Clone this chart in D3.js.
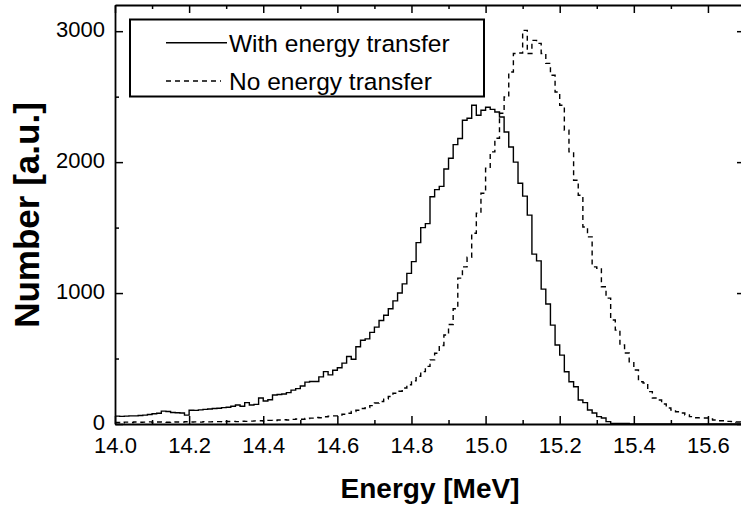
<!DOCTYPE html>
<html>
<head>
<meta charset="utf-8">
<script src="https://cdn.jsdelivr.net/npm/d3@7"></script>
<style>
  body { margin: 0; background: #fff; }
  svg { display: block; font-family: 'Liberation Sans', Arial, sans-serif; }
</style>
</head>
<body>
<svg id="chart" width="741" height="506"></svg>
<script>
const binStart = 14.0;
const binWidth = 0.0125;

// counts per bin
const withTransfer = [
  60, 58, 60, 62, 62, 65, 68, 72, 78, 82,
  98, 95, 88, 86, 84, 68, 105, 104, 108, 112,
  114, 118, 120, 125, 128, 135, 145, 135, 163, 145,
  150, 198, 176, 185, 221, 225, 229, 240, 259, 270,
  290, 320, 325, 325, 360, 400, 375, 410, 430, 465,
  515, 495, 590, 640, 650, 700, 740, 790, 830, 880,
  940, 1000, 1070, 1150, 1240, 1385, 1500, 1530, 1735, 1790,
  1815, 1947, 2030, 2134, 2180, 2320, 2335, 2434, 2358, 2396,
  2419, 2403, 2383, 2345, 2230, 2116, 2000, 1839, 1740, 1595,
  1297, 1246, 1030, 916, 755, 603, 526, 399, 323, 285,
  183, 163, 107, 84, 56, 46, 18, 5, 5, 5,
  5, 0, 0, 0, 0, 0, 0, 0, 0, 0,
  0, 0, 0, 0, 0, 0, 0, 0, 0, 0,
  0, 0, 0, 0, 0, 0,
];
const noTransfer = [
  12, 10, 14, 12, 15, 13, 14, 16, 12, 15,
  14, 13, 16, 15, 14, 17, 15, 16, 14, 18,
  16, 17, 18, 16, 19, 20, 18, 21, 20, 22,
  24, 25, 22, 28, 26, 30, 32, 30, 35, 38,
  36, 42, 45, 50, 48, 55, 60, 62, 68, 75,
  82, 95, 105, 118, 125, 140, 160, 172, 190, 210,
  235, 250, 275, 300, 330, 365, 400, 440, 490, 540,
  600, 680, 760, 880, 1114, 1200, 1274, 1457, 1610, 1762,
  1953, 2078, 2182, 2373, 2497, 2688, 2830, 2833, 3006, 2830,
  2930, 2907, 2830, 2754, 2663, 2535, 2434, 2243, 2078, 1862,
  1747, 1505, 1429, 1200, 1190, 1048, 961, 794, 717, 603,
  542, 475, 412, 323, 313, 247, 198, 183, 153, 122,
  107, 94, 84, 69, 56, 48, 47, 46, 38, 30,
  25, 25, 20, 18, 15, 12,
];

const xMajor = [14.0, 14.2, 14.4, 14.6, 14.8, 15.0, 15.2, 15.4, 15.6];
const xMinor = [14.1, 14.3, 14.5, 14.7, 14.9, 15.1, 15.3, 15.5, 15.7];
const yMajor = [0, 1000, 2000, 3000];
const yMinor = [500, 1500, 2500];
const seriesNames = ['With energy transfer', 'No energy transfer'];

const svg = d3.select('#chart');
const plotLeft = 115; const plotRight = 745; const plotTop = 5; const plotBottom = 424;

const x = d3.scaleLinear().domain([14.0, 15.7]).range([plotLeft, plotRight]);
const y = d3.scaleLinear().domain([0, 3200]).range([plotBottom, plotTop]);

const toPoints = (vals)=>{
  const pts = vals.map((v, i)=>[binStart + i*binWidth, v]);
  pts.push([binStart + vals.length*binWidth, vals[vals.length-1]]);
  return pts;
};

const line = d3.line()
    .x((d)=>x(d[0]))
    .y((d)=>y(d[1]))
    .curve(d3.curveStepAfter);

const dashes = [null, '5,4'];

// histograms
[withTransfer, noTransfer].forEach((vals, i)=>{
  svg.append('path')
      .attr('d', line(toPoints(vals)))
      .style('fill', 'none')
      .style('stroke', '#000')
      .style('stroke-width', 1.4)
      .style('stroke-dasharray', dashes[i]);
});

// axes, ticks pointing inward
const drawAxis = (axis, tx, ty, withDomain)=>{
  const g = svg.append('g')
      .attr('transform', `translate(${tx},${ty})`)
      .call(axis)
      .attr('font-family', null)
      .attr('font-size', 22);
  g.selectAll('.tick line').style('stroke', '#000').style('stroke-width', 1.5);
  g.selectAll('.tick text').style('fill', '#000');
  if (withDomain) {
    g.select('.domain').style('stroke', '#000').style('stroke-width', 1.8);
  } else {
    g.select('.domain').remove();
  }
  return g;
};

drawAxis(d3.axisBottom(x).tickValues(xMajor).tickFormat(d3.format('.1f'))
    .tickSizeInner(-8).tickSizeOuter(0).tickPadding(13), 0, plotBottom, true);
drawAxis(d3.axisBottom(x).tickValues(xMinor).tickFormat('')
    .tickSizeInner(-4).tickSizeOuter(0), 0, plotBottom, false);
drawAxis(d3.axisTop(x).tickValues(xMajor).tickFormat('')
    .tickSizeInner(-8).tickSizeOuter(0), 0, plotTop, true);
drawAxis(d3.axisTop(x).tickValues(xMinor).tickFormat('')
    .tickSizeInner(-4).tickSizeOuter(0), 0, plotTop, false);

drawAxis(d3.axisLeft(y).tickValues(yMajor).tickFormat(d3.format('d'))
    .tickSizeInner(-8).tickSizeOuter(0).tickPadding(10), plotLeft, 0, true)
    .selectAll('.tick text').attr('dy', '0.26em');
drawAxis(d3.axisLeft(y).tickValues(yMinor).tickFormat('')
    .tickSizeInner(-4).tickSizeOuter(0), plotLeft, 0, false);
drawAxis(d3.axisRight(y).tickValues(yMajor).tickFormat('')
    .tickSizeInner(-8).tickSizeOuter(0), plotRight, 0, true);
drawAxis(d3.axisRight(y).tickValues(yMinor).tickFormat('')
    .tickSizeInner(-4).tickSizeOuter(0), plotRight, 0, false);

// axis titles
svg.append('text')
    .attr('x', (plotLeft+plotRight)/2)
    .attr('y', 498)
    .attr('text-anchor', 'middle')
    .style('font-size', '28px')
    .style('font-weight', 'bold')
    .text('Energy [MeV]');

svg.append('text')
    .attr('transform', `translate(39,215) rotate(-90)`)
    .attr('text-anchor', 'middle')
    .style('font-size', '35px')
    .style('font-weight', 'bold')
    .text('Number [a.u.]');

// legend
const legend = svg.append('g');
legend.append('rect')
    .attr('x', 130).attr('y', 19.5)
    .attr('width', 354).attr('height', 77)
    .style('fill', '#fff')
    .style('stroke', '#000')
    .style('stroke-width', 2);

seriesNames.forEach((name, i)=>{
  const ly = 42.7 + i*38.3;
  legend.append('line')
      .attr('x1', 166).attr('x2', i ? 221 : 227)
      .attr('y1', ly).attr('y2', ly)
      .style('stroke', '#000')
      .style('stroke-width', 1.4)
      .style('stroke-dasharray', dashes[i]);
  legend.append('text')
      .attr('x', 229)
      .attr('y', ly)
      .attr('dy', '0.36em')
      .style('font-size', '24.5px')
      .text(name);
});
</script>
</body>
</html>
